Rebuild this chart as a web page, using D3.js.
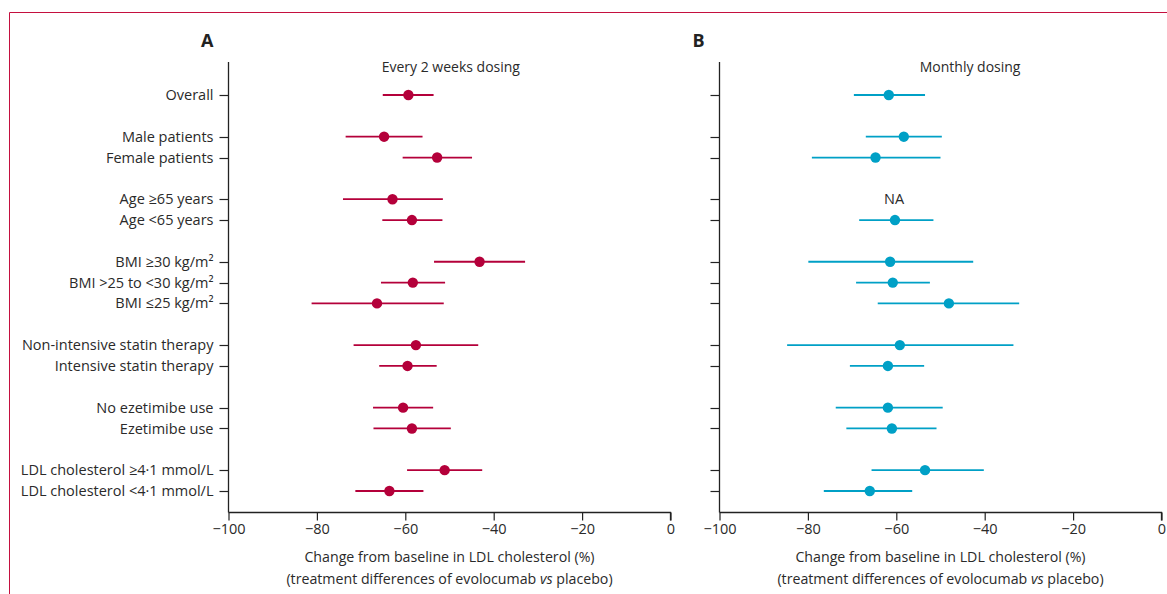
<!DOCTYPE html>
<html><head><meta charset="utf-8">
<script src="https://cdn.jsdelivr.net/npm/d3@7"></script>
<style>
body{margin:0;background:#fff;}
svg{display:block;font-family:"Open Sans",Lato,sans-serif;}
</style></head>
<body>
<svg id="chart" width="1167" height="594"></svg>
<script>
const categories = ["Overall","Male patients","Female patients","Age \u226565 years","Age <65 years",
  "BMI \u226530 kg/m\u00b2","BMI >25 to <30 kg/m\u00b2","BMI \u226425 kg/m\u00b2",
  "Non-intensive statin therapy","Intensive statin therapy","No ezetimibe use","Ezetimibe use",
  "LDL cholesterol \u22654\u00b71 mmol/L","LDL cholesterol <4\u00b71 mmol/L"];
const slots = [0,2,3,5,6,8,9,10,12,13,15,16,18,19];

const q2wMean = [-59.3,-64.8,-52.8,-62.9,-58.5,-43.2,-58.3,-66.4,-57.6,-59.5,-60.5,-58.5,-51.1,-63.6];
const q2wLow  = [-65.1,-73.5,-60.6,-74.1,-65.2,-53.5,-65.5,-81.2,-71.7,-65.9,-67.3,-67.2,-59.6,-71.3];
const q2wHigh = [-53.6,-56.1,-44.9,-51.5,-51.6,-32.9,-51.0,-51.3,-43.5,-52.9,-53.7,-49.7,-42.6,-55.9];

const monMean = [-61.7,-58.3,-64.7,null,-60.3,-61.4,-60.8,-48.1,-59.2,-61.9,-61.9,-61.0,-53.5,-66.0];
const monLow  = [-69.6,-66.9,-79.1,null,-68.4,-79.9,-69.1,-64.2,-84.7,-70.5,-73.7,-71.3,-65.6,-76.4];
const monHigh = [-53.5,-49.7,-50.0,null,-51.6,-42.6,-52.4,-32.2,-33.5,-53.7,-49.5,-50.9,-40.2,-56.4];

const xTicks = [-100,-80,-60,-40,-20,0];
const panelLetters = ["A","B"];
const panelTitles = ["Every 2 weeks dosing","Monthly dosing"];
const axisTitle1 = "Change from baseline in LDL cholesterol (%)";
const colors = ["#b4003a","#00a0c6"];

const svg = d3.select("#chart");
const border = "#c4103f";
svg.append("line").attr("x1",9.5).attr("x2",1167).attr("y1",12.5).attr("y2",12.5).attr("stroke",border).attr("stroke-width",1);
svg.append("line").attr("x1",9.5).attr("x2",9.5).attr("y1",12.5).attr("y2",594).attr("stroke",border).attr("stroke-width",1);

const y = d3.scaleLinear().domain([0,19]).range([95,491]);
const textCol = "#2a2a2a";

const panels = [
  {x0:228.5, x1:670.5, mean:q2wMean, low:q2wLow, high:q2wHigh, labels:true, titleAt:-49.7},
  {x0:719.5, x1:1161.5, mean:monMean, low:monLow, high:monHigh, labels:false, titleAt:-43.3}
];

panels.forEach((p,pi)=>{
  const x = d3.scaleLinear().domain([-100,0]).range([p.x0,p.x1]);
  const g = svg.append("g");
  g.append("line").attr("x1",p.x0).attr("x2",p.x0).attr("y1",62).attr("y2",512.5)
    .attr("stroke","#222").attr("stroke-width",1.3);
  slots.forEach((s,i)=>{
    g.append("line").attr("x1",p.x0-9).attr("x2",p.x0).attr("y1",Math.round(y(s))+0.5).attr("y2",Math.round(y(s))+0.5)
      .attr("stroke","#222").attr("stroke-width",1.2);
    if(p.labels){
      g.append("text").attr("x",p.x0-15).attr("y",y(s)).attr("dy","0.35em").attr("text-anchor","end")
        .attr("font-size",14.5).attr("fill",textCol).text(categories[i]);
    }
  });
  const xa = d3.axisBottom(x).tickValues(xTicks).tickSize(8).tickPadding(3)
    .tickFormat(d=> d<0 ? "\u2212"+Math.abs(d) : String(d));
  const ax = svg.append("g").attr("transform","translate(0,512.5)").call(xa);
  ax.select(".domain").attr("stroke","#222").attr("stroke-width",1.3).attr("d",`M${p.x0},0H${p.x1}V8`);
  ax.selectAll(".tick line").attr("stroke","#222").attr("stroke-width",1.2);
  ax.selectAll(".tick text").attr("font-size",14.5).attr("fill",textCol).attr("font-family","'Open Sans',Lato,sans-serif");

  const data = categories.map((c,i)=>({slot:slots[i],m:p.mean[i],lo:p.low[i],hi:p.high[i]})).filter(d=>d.m!==null);
  g.selectAll("line.ci").data(data).enter().append("line").attr("class","ci")
    .attr("x1",d=>x(d.lo)).attr("x2",d=>x(d.hi)).attr("y1",d=>y(d.slot)).attr("y2",d=>y(d.slot))
    .attr("stroke",colors[pi]).attr("stroke-width",1.8);
  g.selectAll("circle").data(data).enter().append("circle")
    .attr("cx",d=>x(d.m)).attr("cy",d=>y(d.slot)).attr("r",5.2).attr("fill",colors[pi]);

  categories.forEach((c,i)=>{
    if(p.mean[i]===null){
      g.append("text").attr("x",x(-60.5)).attr("y",y(slots[i])).attr("dy","0.35em").attr("text-anchor","middle")
        .attr("font-size",14.5).attr("fill",textCol).text("NA");
    }
  });

  svg.append("text").attr("x",p.x0-15).attr("y",47).attr("text-anchor","end").attr("font-size",18)
    .attr("font-weight","bold").attr("fill","#222").text(panelLetters[pi]);
  svg.append("text").attr("x",x(p.titleAt)).attr("y",72).attr("text-anchor","middle").attr("font-size",14)
    .attr("fill",textCol).text(panelTitles[pi]);
  svg.append("text").attr("x",x(-50)).attr("y",562).attr("text-anchor","middle").attr("font-size",14.2)
    .attr("fill",textCol).text(axisTitle1);
  const t2 = svg.append("text").attr("x",x(-50)).attr("y",584).attr("text-anchor","middle").attr("font-size",14.2)
    .attr("fill",textCol);
  t2.append("tspan").text("(treatment differences of evolocumab ");
  t2.append("tspan").attr("font-style","italic").text("vs");
  t2.append("tspan").text(" placebo)");
});
</script>
</body></html>
